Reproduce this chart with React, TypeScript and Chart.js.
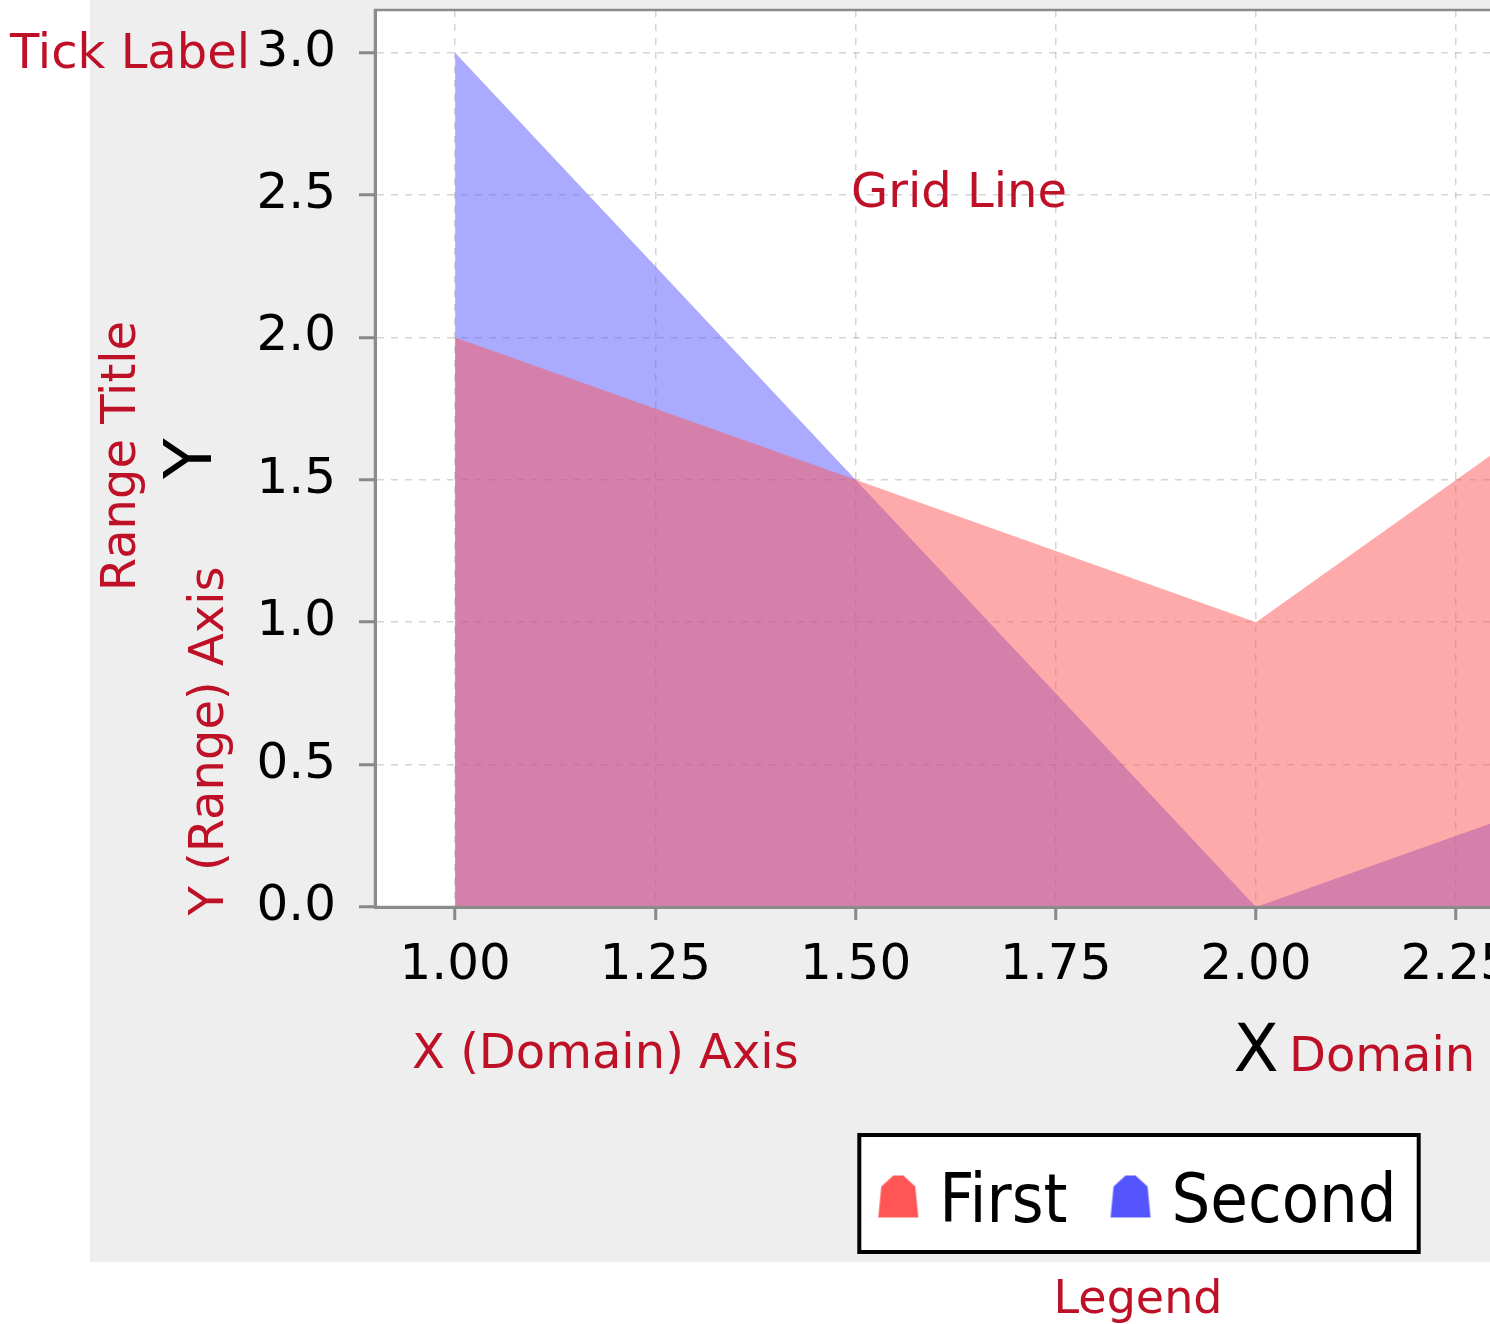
import React, { useEffect, useRef } from 'react';
import { Chart, registerables } from 'chart.js';

Chart.register(...registerables);

// ---- data ----
const xValues = [1.0, 1.5, 2.0, 2.5];
const firstValues = [2.0, 1.5, 1.0, 2.0];
const secondValues = [3.0, 1.5, 0.0, 0.5];
const seriesNames = ['First', 'Second'];
const xTickValues = [1.0, 1.25, 1.5, 1.75, 2.0, 2.25, 2.5, 2.75, 3.0];
const xTickLabels = ['1.00', '1.25', '1.50', '1.75', '2.00', '2.25', '2.50', '2.75', '3.00'];
const yTickValues = [0, 0.5, 1.0, 1.5, 2.0, 2.5, 3.0];
const yTickLabels = ['0.0', '0.5', '1.0', '1.5', '2.0', '2.5', '3.0'];
const xAxisTitle = 'X';
const yAxisTitle = 'Y';

// annotation labels of the diagram
const noteTexts = ['Tick Label', 'Grid Line', 'Range Title', 'Y (Range) Axis', 'X (Domain) Axis', 'Domain', 'Legend'];

const FONT = '"DejaVu Sans", sans-serif';
const LEGEND_FONT = '"DejaVu Sans Condensed", "DejaVu Sans", sans-serif';
const NOTE_RED = '#be1026';
const W = 2198;
const H = 1324;

function makeIcon(color: string): HTMLCanvasElement {
  const c = document.createElement('canvas');
  c.width = 42;
  c.height = 59;
  const g = c.getContext('2d')!;
  g.fillStyle = color;
  g.beginPath();
  g.moveTo(1, 43);
  g.lineTo(41, 43);
  g.lineTo(38, 12);
  g.lineTo(26, 1);
  g.lineTo(16, 1);
  g.lineTo(4, 12);
  g.closePath();
  g.fill();
  return c;
}

function legendBox(chart: any) {
  const hb = chart.legend && chart.legend.legendHitBoxes;
  if (!hb || !hb.length) return null;
  const l = hb[0].left - 34;
  const r = hb[hb.length - 1].left + hb[hb.length - 1].width + 24;
  const cy = hb[0].top + hb[0].height / 2;
  return { l, r, t: cy - 71, b: cy + 50 };
}

export default function App() {
  const ref = useRef<HTMLCanvasElement | null>(null);

  useEffect(() => {
    const canvas = ref.current;
    if (!canvas) return;
    const icons = [makeIcon('#ff5555'), makeIcon('#5555ff')];

    const bgPlugin = {
      id: 'bgPlugin',
      beforeDraw(chart: any) {
        const ctx = chart.ctx;
        const a = chart.chartArea;
        ctx.save();
        ctx.fillStyle = '#ffffff';
        ctx.fillRect(0, 0, W, H);
        ctx.fillStyle = '#eeeeee';
        ctx.fillRect(90, 0, W - 90, 1262);
        ctx.fillStyle = '#ffffff';
        ctx.fillRect(a.left, a.top, a.right - a.left, a.bottom - a.top);
        const box = legendBox(chart);
        if (box) {
          ctx.fillStyle = '#ffffff';
          ctx.fillRect(box.l, box.t, box.r - box.l, box.b - box.t);
        }
        ctx.restore();
      },
      afterDatasetsDraw(chart: any) {
        const ctx = chart.ctx;
        const a = chart.chartArea;
        ctx.save();
        ctx.strokeStyle = '#8c8c8c';
        ctx.lineWidth = 2.5;
        ctx.strokeRect(a.left, a.top, a.right - a.left, a.bottom - a.top);
        ctx.restore();
      },
      afterDraw(chart: any) {
        const ctx = chart.ctx;
        ctx.save();
        const box = legendBox(chart);
        if (box) {
          ctx.strokeStyle = '#000000';
          ctx.lineWidth = 4;
          ctx.strokeRect(box.l + 2, box.t + 2, box.r - box.l - 4, box.b - box.t - 4);
        }
        ctx.fillStyle = NOTE_RED;
        ctx.font = `48px ${FONT}`;
        ctx.textBaseline = 'alphabetic';
        ctx.textAlign = 'left';
        ctx.fillText(noteTexts[0], 10, 68);
        ctx.fillText(noteTexts[1], 851, 207);
        ctx.fillText(noteTexts[4], 412, 1068);
        ctx.fillText(noteTexts[5], 1289, 1071);
        ctx.textAlign = 'center';
        ctx.font = `46px ${FONT}`;
        ctx.fillText(noteTexts[6], 1138, 1313);
        ctx.font = `48px ${FONT}`;
        ctx.save();
        ctx.translate(135, 456);
        ctx.rotate(-Math.PI / 2);
        ctx.fillText(noteTexts[2], 0, 0);
        ctx.restore();
        ctx.save();
        ctx.translate(223, 741);
        ctx.rotate(-Math.PI / 2);
        ctx.fillText(noteTexts[3], 0, 0);
        ctx.restore();
        ctx.restore();
      },
    };

    const gridCommon = {
      color: 'rgba(150,150,150,0.4)',
      lineWidth: 1.5,
      tickBorderDash: [],
      tickColor: '#888888',
      tickWidth: 3,
      drawOnChartArea: true,
      drawTicks: true,
    };

    const chart = new Chart(canvas, {
      type: 'line',
      data: {
        datasets: [
          {
            label: seriesNames[0],
            data: xValues.map((x, i) => ({ x, y: firstValues[i] })),
            fill: 'origin',
            backgroundColor: 'rgba(255,85,85,0.5)',
            borderColor: 'rgba(255,85,85,0)',
            borderWidth: 0,
            pointRadius: 0,
            tension: 0,
          },
          {
            label: seriesNames[1],
            data: xValues.map((x, i) => ({ x, y: secondValues[i] })),
            fill: 'origin',
            backgroundColor: 'rgba(85,85,255,0.5)',
            borderColor: 'rgba(85,85,255,0)',
            borderWidth: 0,
            pointRadius: 0,
            tension: 0,
          },
        ],
      },
      options: {
        responsive: false,
        animation: false,
        devicePixelRatio: 1,
        layout: { padding: { left: 90, right: 0, top: 10, bottom: 76 } },
        plugins: {
          tooltip: { enabled: false },
          legend: {
            display: true,
            position: 'bottom',
            labels: {
              font: { family: LEGEND_FONT, size: 68 },
              color: '#000000',
              usePointStyle: true,
              pointStyleWidth: 14,
              padding: 56,
              generateLabels: (ch: any) =>
                (Chart.defaults.plugins.legend.labels.generateLabels as any)(ch).map((it: any, i: number) => ({
                  ...it,
                  pointStyle: icons[i],
                })),
            },
          },
        },
        scales: {
          x: {
            type: 'linear',
            position: 'bottom',
            min: 0.9,
            max: 3.1,
            z: 1,
            afterFit: (s: any) => {
              s.height = 207;
              s.paddingLeft = 0;
              s.paddingRight = 0;
            },
            afterBuildTicks: (s: any) => {
              s.ticks = xTickValues.map((v) => ({ value: v }));
            },
            grid: { ...gridCommon, tickLength: 13 },
            border: { display: true, color: '#888888', width: 3, dash: [7, 7] },
            ticks: {
              autoSkip: false,
              maxRotation: 0,
              padding: 16,
              color: '#000000',
              font: { family: FONT, size: 50 },
              callback: (v: any) => {
                const i = xTickValues.indexOf(Number(v));
                return i >= 0 ? xTickLabels[i] : '';
              },
            },
            title: {
              display: true,
              text: xAxisTitle,
              color: '#000000',
              font: { family: FONT, size: 66 },
              padding: { top: 0, bottom: 21 },
            },
          },
          y: {
            type: 'linear',
            position: 'left',
            min: 0,
            max: 3.15,
            z: 1,
            afterFit: (s: any) => {
              s.width = 285;
              s.paddingTop = 0;
              s.paddingBottom = 0;
            },
            afterBuildTicks: (s: any) => {
              s.ticks = yTickValues.map((v) => ({ value: v }));
            },
            grid: { ...gridCommon, tickLength: 16 },
            border: { display: true, color: '#888888', width: 3, dash: [7, 7] },
            ticks: {
              autoSkip: false,
              padding: 23,
              color: '#000000',
              font: { family: FONT, size: 50 },
              callback: (v: any) => {
                const i = yTickValues.indexOf(Number(v));
                return i >= 0 ? yTickLabels[i] : '';
              },
            },
            title: {
              display: true,
              text: yAxisTitle,
              color: '#000000',
              font: { family: FONT, size: 66 },
              padding: { top: 64, bottom: 0 },
            },
          },
          y2: {
            type: 'linear',
            position: 'right',
            display: true,
            afterFit: (s: any) => {
              s.width = 61;
              s.paddingTop = 0;
              s.paddingBottom = 0;
            },
            grid: { display: false },
            border: { display: false },
            ticks: { display: false },
          },
        },
      },
      plugins: [bgPlugin],
    } as any);

    return () => chart.destroy();
  }, []);

  return (
    <div style={{ position: 'absolute', left: 0, top: 0, width: 1490, height: H, overflow: 'hidden', background: '#ffffff' }}>
      <canvas ref={ref} width={W} height={H} style={{ display: 'block', width: W, height: H }} />
    </div>
  );
}
